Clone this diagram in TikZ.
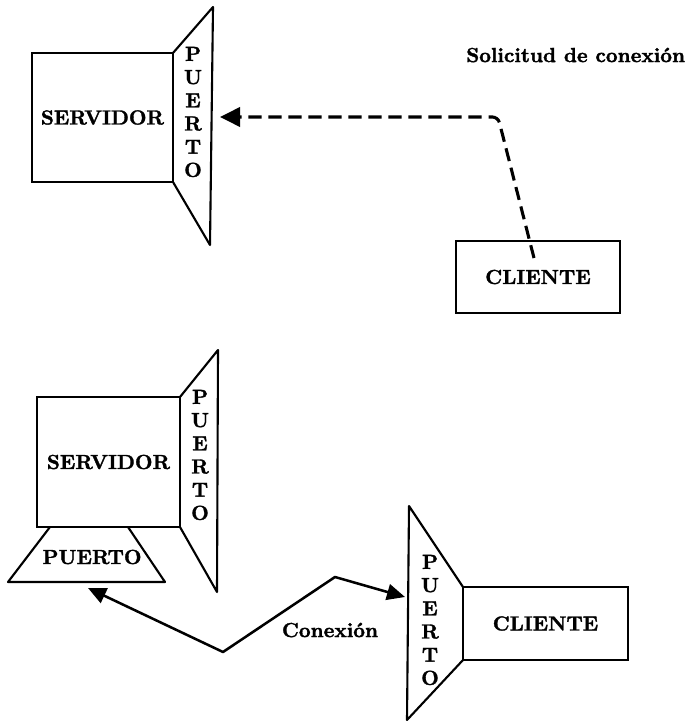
\documentclass[tikz,border=0pt]{standalone}
\usepackage{fontspec}
\newfontfamily\heavyfont{lmroman10-bold.otf}[FakeBold=1.6]
\usetikzlibrary{arrows.meta}
\tikzset{
  bigfont/.style={font=\fontsize{14.5}{16.5}\heavyfont},
  unit/.style={draw, line width=1.5pt, bigfont, inner sep=0pt},
  port/.style={line width=1.5pt, line join=round},
  vport/.style={bigfont, align=center, inner sep=0pt},
  request/.style={line width=2.2pt, dash pattern=on 0.33cm off 0.17cm,
    rounded corners=4pt, -{Triangle[length=0.5cm, width=0.48cm]}},
  link/.style={line width=1.8pt, line join=round,
    {Triangle[length=0.45cm, width=0.4cm]}-{Triangle[length=0.45cm, width=0.4cm]}}
}
\begin{document}
\begin{tikzpicture}[x=0.025cm, y=-0.025cm]
  \useasboundingbox (0,0) rectangle (694,722);
  % upper half: the client asks for a connection
  \node[unit, minimum width=3.525cm, minimum height=3.225cm] (srvA) at (102.5,117.5) {SERVIDOR};
  \draw[port] (173,53) -- (213,7) -- (210,245) -- (173,182);
  \node[vport] (ptA) at (193,112) {P\\U\\E\\R\\T\\O};
  \node[unit, minimum width=4.1cm, minimum height=1.8cm] (cliA) at (538,277) {CLIENTE};
  \node[bigfont, anchor=east] (reqlbl) at (690,55) {Solicitud de conexión};
  \coordinate (reqA) at (534,258);
  \coordinate (bendA) at (498,117);
  \coordinate (inA) at (220,117);
  \draw[request] (reqA) -- (bendA) -- (inA);
  % lower half: the connection is set up
  \node[unit, minimum width=3.575cm, minimum height=3.25cm] (srvB) at (108.5,462) {SERVIDOR};
  \draw[port] (180,397) -- (218,350) -- (217,592) -- (180,527);
  \node[vport] (ptB) at (200,455) {P\\U\\E\\R\\T\\O};
  \draw[port] (50,527) -- (8,582) -- (165,582) -- (128,527);
  \node[bigfont] (ptD) at (92,557) {PUERTO};
  \node[unit, minimum width=4.125cm, minimum height=1.825cm] (cliB) at (545.5,623.5) {CLIENTE};
  \draw[port] (463,587) -- (409,506) -- (407,720) -- (463,660);
  \node[vport] (ptC) at (430,620) {P\\U\\E\\R\\T\\O};
  \coordinate (outB) at (88,588);
  \coordinate (lowB) at (223,652);
  \coordinate (highB) at (335,577);
  \coordinate (inC) at (405,597);
  \draw[link] (outB) -- (lowB) -- (highB) -- (inC);
  \node[bigfont] (linklbl) at (330,630) {Conexión};
\end{tikzpicture}
\end{document}
